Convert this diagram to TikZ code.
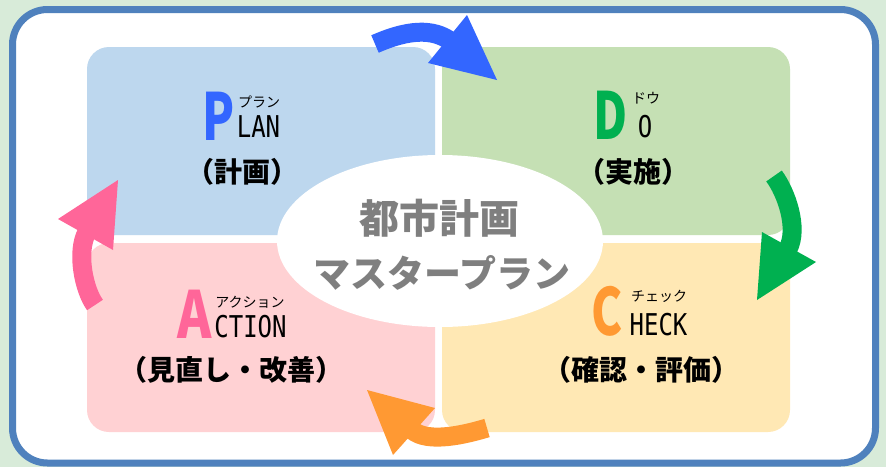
\documentclass[tikz,border=0pt]{standalone}
\usepackage{fontspec}
\newfontfamily\jp{Noto Sans CJK JP}
\newfontfamily\mono{DejaVu Sans Mono}
\definecolor{bgc}{HTML}{D8EBD9}
\definecolor{framec}{HTML}{4F81BD}
\definecolor{qblue}{HTML}{BDD7EE}
\definecolor{qgreen}{HTML}{C5E0B4}
\definecolor{qpink}{HTML}{FFD1D3}
\definecolor{qyellow}{HTML}{FFE8B4}
\definecolor{cblue}{HTML}{3366FF}
\definecolor{cgreen}{HTML}{00B050}
\definecolor{cpink}{HTML}{FF6699}
\definecolor{corange}{HTML}{FF9933}
\definecolor{ctitle}{HTML}{7F7F7F}
\newcommand\sx[2]{\scalebox{#1}[1]{#2}}
\tikzset{
  quad/.style={rounded corners=22pt},
  bigletter/.style={inner sep=0pt, anchor=base, font=\jp\bfseries\fontsize{65}{65}\selectfont},
  rest/.style={inner sep=0pt, anchor=base, font=\mono\fontsize{30}{30}\selectfont},
  kana/.style={inner sep=0pt, font=\jp\fontsize{14}{14}\selectfont},
  sub/.style={inner sep=0pt, font=\jp\bfseries\fontsize{28}{28}\selectfont},
  title/.style={inner sep=0pt, text=ctitle, font=\jp\bfseries\fontsize{40}{40}\selectfont},
  shaft/.style={line width=19pt}
}
\begin{document}
\begin{tikzpicture}[x=1pt,y=-1pt]
\useasboundingbox (0,0) rectangle (886,467);
\fill[bgc] (0,0) rectangle (886,467);
\filldraw[fill=white, draw=framec, line width=7pt, rounded corners=35pt] (12.5,9.5) rectangle (875.5,463);
% quadrants
\fill[qblue, quad] (87,47) rectangle (435,235);
\fill[qgreen, quad] (442,47) rectangle (790,235);
\fill[qpink, quad] (87,243) rectangle (435,432);
\fill[qyellow, quad] (442,243) rectangle (790,432);
% centre ellipse
\fill[white] (440,241) ellipse [x radius=163, y radius=86];
\node[title] (t1) at (439,218) {都市計画};
\node[title, font=\jp\bfseries\fontsize{37}{37}\selectfont] (t2) at (442,273) {マスタープラン};
% PLAN
\node[bigletter, text=cblue] (P) at (219,140) {\sx{0.72}{P}};
\node[rest] (LAN) at (258.5,137) {\sx{0.8}{LAN}};
\node[kana] (kP) at (259,102) {プラン};
\node[sub] (sP) at (242,172) {（計画）};
% DO
\node[bigletter, text=cgreen] (D) at (611,139) {\sx{0.72}{D}};
\node[rest] (O) at (645,137) {\sx{0.8}{O}};
\node[kana] (kD) at (646,98) {ドウ};
\node[sub] (sD) at (633,172) {（実施）};
% ACTION
\node[bigletter, text=cpink] (A) at (194.5,338) {\sx{0.8}{A}};
\node[rest] (CTION) at (250.5,337) {\sx{0.8}{CTION}};
\node[kana] (kA) at (250,302) {アクション};
\node[sub] (sA) at (231,370) {（見直し・改善）};
% CHECK
\node[bigletter, text=corange] (C) at (607.5,335) {\sx{0.72}{C}};
\node[rest] (HECK) at (658.5,335) {\sx{0.8}{HECK}};
\node[kana] (kC) at (659,296) {チェック};
\node[sub] (sC) at (641,370) {（確認・評価）};
% arrows
\coordinate (bt) at (375,44);
\coordinate (be) at (449,40);
\draw[shaft, cblue] (bt) .. controls (400,33) and (428,26) .. (be);
\fill[cblue] (467,15) -- (497,80) -- (428,63) -- cycle;
\coordinate (gt) at (774,176);
\coordinate (ge) at (788,249);
\draw[shaft, cgreen] (gt) .. controls (786,192) and (799,228) .. (ge);
\fill[cgreen] (762,232) -- (816,262) -- (757,300) -- cycle;
\coordinate (pt) at (95,305);
\coordinate (pe) at (87,232);
\draw[shaft, cpink] (pt) .. controls (84,290) and (76,252) .. (pe);
\fill[cpink] (58,219) -- (118,180) -- (113,250) -- cycle;
\coordinate (ot) at (487,428);
\coordinate (oe) at (412,430);
\draw[shaft, corange] (ot) .. controls (467,434) and (428,444) .. (oe);
\fill[corange] (435,408) -- (367,390) -- (393,455) -- cycle;
\end{tikzpicture}
\end{document}
